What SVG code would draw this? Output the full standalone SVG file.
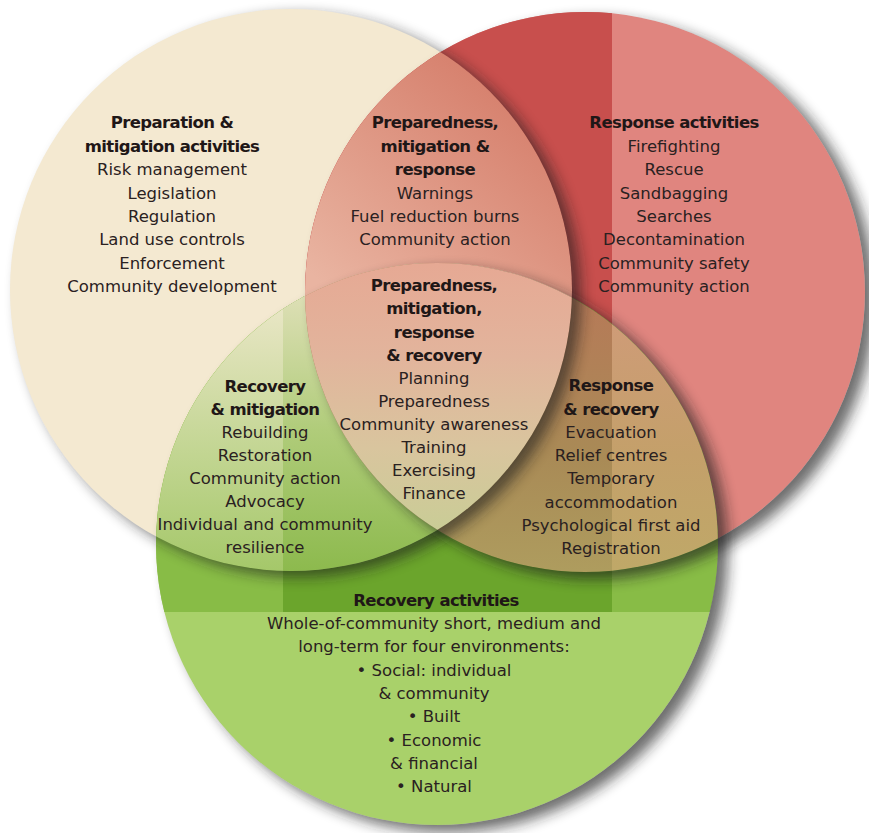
<svg xmlns="http://www.w3.org/2000/svg" width="869" height="833" viewBox="0 0 869 833">
<style>
.t{font-family:"DejaVu Sans","Liberation Sans",sans-serif;font-size:16.5px;fill:#2a2121;text-anchor:middle}
.b{font-weight:bold;letter-spacing:-0.6px;fill:#1f1717}
</style>
<defs>
<clipPath id="cC"><circle cx="291" cy="290" r="281"/></clipPath>
<clipPath id="cR"><circle cx="585" cy="292" r="280"/></clipPath>
<clipPath id="cG"><circle cx="437" cy="544" r="281"/></clipPath>
<filter id="blur" x="-10%" y="-10%" width="120%" height="120%"><feGaussianBlur stdDeviation="7"/></filter>
<mask id="mC" maskUnits="userSpaceOnUse" x="0" y="0" width="869" height="833"><rect width="869" height="833" fill="#fff"/><circle cx="291" cy="290" r="281" fill="#000"/></mask>
<mask id="mR" maskUnits="userSpaceOnUse" x="0" y="0" width="869" height="833"><rect width="869" height="833" fill="#fff"/><circle cx="585" cy="292" r="280" fill="#000"/></mask>
<mask id="mG" maskUnits="userSpaceOnUse" x="0" y="0" width="869" height="833"><rect width="869" height="833" fill="#fff"/><circle cx="437" cy="544" r="281" fill="#000"/></mask>
<linearGradient id="gD" gradientUnits="userSpaceOnUse" x1="520" y1="60" x2="330" y2="290"><stop offset="0" stop-color="#d47a67"/><stop offset="1" stop-color="#e9b4a1"/></linearGradient>
<linearGradient id="gE" gradientUnits="userSpaceOnUse" x1="0" y1="290" x2="0" y2="570"><stop offset="0" stop-color="#ede8cb"/><stop offset="0.5" stop-color="#c8d89a"/><stop offset="1" stop-color="#a5c86a"/></linearGradient>
<linearGradient id="gE2" gradientUnits="userSpaceOnUse" x1="0" y1="290" x2="0" y2="570"><stop offset="0" stop-color="#dfe0b8"/><stop offset="0.5" stop-color="#b0cc7a"/><stop offset="1" stop-color="#8dba4e"/></linearGradient>
<linearGradient id="gF" gradientUnits="userSpaceOnUse" x1="0" y1="280" x2="0" y2="570"><stop offset="0" stop-color="#b87858"/><stop offset="0.6" stop-color="#a98a56"/><stop offset="1" stop-color="#ae9c5e"/></linearGradient>
<linearGradient id="gF2" gradientUnits="userSpaceOnUse" x1="0" y1="280" x2="0" y2="570"><stop offset="0" stop-color="#d29a7c"/><stop offset="0.6" stop-color="#c4a06a"/><stop offset="1" stop-color="#bfa868"/></linearGradient>
<linearGradient id="gG" gradientUnits="userSpaceOnUse" x1="0" y1="265" x2="0" y2="570"><stop offset="0" stop-color="#e6a994"/><stop offset="0.3" stop-color="#e2b49c"/><stop offset="0.6" stop-color="#d9c59e"/><stop offset="1" stop-color="#c2d092"/></linearGradient>
</defs>
<rect width="869" height="833" fill="#fff"/>
<g id="circles">
<circle cx="291" cy="290" r="281" fill="#f4e9d1"/>
<circle cx="585" cy="292" r="280" fill="#e0857f"/>
<g clip-path="url(#cR)"><rect x="0" y="0" width="612" height="612" fill="#c84f4d"/></g>
<circle cx="437" cy="544" r="281" fill="#a9d16a"/>
<g clip-path="url(#cG)"><rect x="0" y="0" width="869" height="612" fill="#88bc46"/><rect x="283" y="0" width="329" height="612" fill="#6ba52c"/></g>
<g clip-path="url(#cC)"><circle cx="585" cy="292" r="280" fill="url(#gD)"/></g>
<g clip-path="url(#cC)"><g clip-path="url(#cG)"><rect x="0" y="0" width="869" height="833" fill="url(#gE)"/><rect x="283" y="0" width="329" height="833" fill="url(#gE2)"/></g></g>
<g clip-path="url(#cR)"><g clip-path="url(#cG)"><rect x="0" y="0" width="612" height="833" fill="url(#gF)"/><rect x="612" y="0" width="257" height="833" fill="url(#gF2)"/></g></g>
<g clip-path="url(#cC)"><g clip-path="url(#cR)"><circle cx="437" cy="544" r="281" fill="url(#gG)"/></g></g>
</g>
<g id="shadows">
<g mask="url(#mC)"><circle cx="300" cy="296" r="281" fill="#1e1e1e" opacity="0.6" filter="url(#blur)"/></g>
<g mask="url(#mR)"><circle cx="595" cy="299" r="280" fill="#1e1e1e" opacity="0.65" filter="url(#blur)"/></g>
<g mask="url(#mG)"><circle cx="447" cy="551" r="281" fill="#1e1e1e" opacity="0.65" filter="url(#blur)"/></g>
</g>
<g id="connectors"/>
<g id="preparation-mitigation">
<text class="t b" x="172" y="128">Preparation &amp;</text>
<text class="t b" x="172" y="151.5">mitigation activities</text>
<text class="t" x="172" y="175">Risk management</text>
<text class="t" x="172" y="198.5">Legislation</text>
<text class="t" x="172" y="222">Regulation</text>
<text class="t" x="172" y="245">Land use controls</text>
<text class="t" x="172" y="268.5">Enforcement</text>
<text class="t" x="172" y="292">Community development</text>
</g>
<g id="preparedness-mitigation-response">
<text class="t b" x="435" y="128">Preparedness,</text>
<text class="t b" x="435" y="151.5">mitigation &amp;</text>
<text class="t b" x="435" y="175">response</text>
<text class="t" x="435" y="198.5">Warnings</text>
<text class="t" x="435" y="222">Fuel reduction burns</text>
<text class="t" x="435" y="245">Community action</text>
</g>
<g id="response">
<text class="t b" x="674" y="128">Response activities</text>
<text class="t" x="674" y="151.5">Firefighting</text>
<text class="t" x="674" y="175">Rescue</text>
<text class="t" x="674" y="198.5">Sandbagging</text>
<text class="t" x="674" y="222">Searches</text>
<text class="t" x="674" y="245">Decontamination</text>
<text class="t" x="674" y="268.5">Community safety</text>
<text class="t" x="674" y="292">Community action</text>
</g>
<g id="all-four">
<text class="t b" x="434" y="291">Preparedness,</text>
<text class="t b" x="434" y="314">mitigation,</text>
<text class="t b" x="434" y="337.5">response</text>
<text class="t b" x="434" y="361">&amp; recovery</text>
<text class="t" x="434" y="384">Planning</text>
<text class="t" x="434" y="407">Preparedness</text>
<text class="t" x="434" y="430">Community awareness</text>
<text class="t" x="434" y="453">Training</text>
<text class="t" x="434" y="476">Exercising</text>
<text class="t" x="434" y="499">Finance</text>
</g>
<g id="recovery-mitigation">
<text class="t b" x="265" y="392">Recovery</text>
<text class="t b" x="265" y="415">&amp; mitigation</text>
<text class="t" x="265" y="438">Rebuilding</text>
<text class="t" x="265" y="461">Restoration</text>
<text class="t" x="265" y="484">Community action</text>
<text class="t" x="265" y="507">Advocacy</text>
<text class="t" x="265" y="530">Individual and community</text>
<text class="t" x="265" y="553">resilience</text>
</g>
<g id="response-recovery">
<text class="t b" x="611" y="391">Response</text>
<text class="t b" x="611" y="415">&amp; recovery</text>
<text class="t" x="611" y="438">Evacuation</text>
<text class="t" x="611" y="461">Relief centres</text>
<text class="t" x="611" y="484">Temporary</text>
<text class="t" x="611" y="508">accommodation</text>
<text class="t" x="611" y="531">Psychological first aid</text>
<text class="t" x="611" y="554">Registration</text>
</g>
<g id="recovery">
<text class="t b" x="436" y="606">Recovery activities</text>
<text class="t" x="434" y="629">Whole-of-community short, medium and</text>
<text class="t" x="434" y="652">long-term for four environments:</text>
<text class="t" x="434" y="676">• Social: individual</text>
<text class="t" x="434" y="699">&amp; community</text>
<text class="t" x="434" y="722">• Built</text>
<text class="t" x="434" y="746">• Economic</text>
<text class="t" x="434" y="769">&amp; financial</text>
<text class="t" x="434" y="792">• Natural</text>
</g>
</svg>
